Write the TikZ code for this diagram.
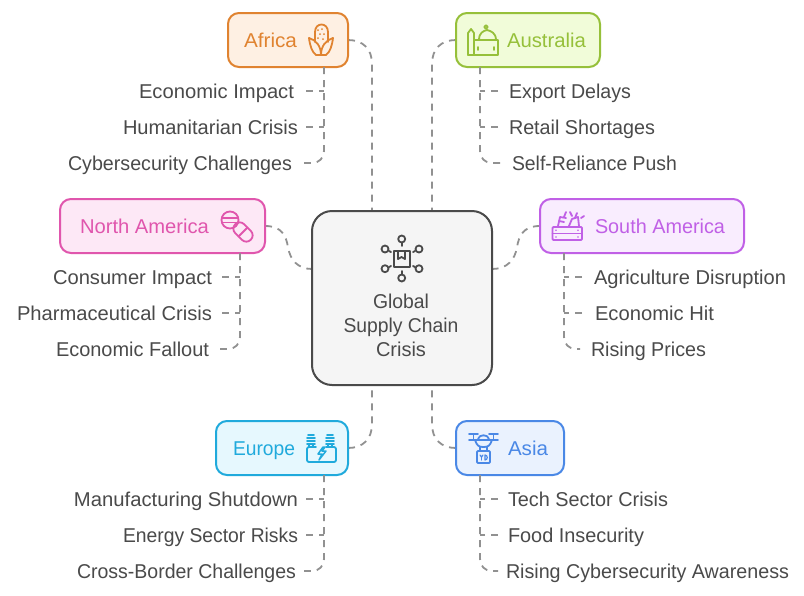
\documentclass[tikz,border=0pt]{standalone}
\usepackage{graphicx}
\usepackage{fontspec}
\setmainfont{Liberation Sans}
\newcommand\fw[2]{\setbox0=\hbox{#2}\pgfmathsetmacro\fwr{#1/\the\wd0}\scalebox{\fwr}[1]{\box0}}
\definecolor{ink}{HTML}{4A4A4A}
\definecolor{dashc}{HTML}{919191}
\definecolor{afS}{HTML}{E08330}\definecolor{afF}{HTML}{FEF0E3}
\definecolor{auS}{HTML}{96C03A}\definecolor{auF}{HTML}{F1FCD9}
\definecolor{naS}{HTML}{E056AD}\definecolor{naF}{HTML}{FDE8F6}
\definecolor{saS}{HTML}{C060E6}\definecolor{saF}{HTML}{F9EDFE}
\definecolor{euS}{HTML}{20AADC}\definecolor{euF}{HTML}{E6F8FE}
\definecolor{asS}{HTML}{4A88E6}\definecolor{asF}{HTML}{EAF2FE}
\tikzset{
  txt/.style={font=\fontsize{20}{24}\selectfont,inner sep=0pt,outer sep=0pt},
  leaf/.style={txt,text=ink},
  region/.style={draw=#1S,fill=#1F,line width=2pt,rounded corners=11pt,inner sep=0pt,minimum height=54pt},
  conn/.style={draw=dashc,line width=1.8pt,dash pattern=on 7pt off 6pt},
  icn/.style={line width=1.8pt,line cap=round,line join=round,fill=none},
}
\begin{document}
\begin{tikzpicture}[x=1pt,y=-1pt]
\useasboundingbox (0,0) rectangle (804,595);
\fill[white] (0,0) rectangle (804,595);
% anchors on the centre box and regions
\coordinate (cTl) at (372,211);\coordinate (cTr) at (432,211);
\coordinate (cBl) at (372,385);\coordinate (cBr) at (432,385);
\coordinate (cL) at (312,269);\coordinate (cR) at (492,269);
% connectors below the boxes
\draw[conn] (348,40) .. controls (363,40) and (372,49) .. (372,64) -- (cTl);
\draw[conn] (456,40) .. controls (441,40) and (432,49) .. (432,64) -- (cTr);
\draw[conn] (265,226) .. controls (282,226) and (286,236) .. (288,247) .. controls (290,260) and (298,269) .. (cL);
\draw[conn] (540,226) .. controls (523,226) and (519,236) .. (517,247) .. controls (515,260) and (507,269) .. (cR);
\draw[conn] (348,448) .. controls (363,448) and (372,439) .. (372,424) -- (cBl);
\draw[conn] (456,448) .. controls (441,448) and (432,439) .. (432,424) -- (cBr);
% centre
\node[draw=ink,fill=black!4,line width=2pt,rounded corners=20pt,minimum width=180pt,minimum height=174pt,inner sep=0pt] (center) at (402,298) {};
\node[leaf,anchor=base] (centerA) at (401,308) {\fw{56}{Global}};
\node[leaf,anchor=base] (centerB) at (401,332) {\fw{115}{Supply Chain}};
\node[leaf,anchor=base] (centerC) at (401,356) {\fw{50}{Crisis}};
% regions
\node[region=af,minimum width=120pt] (africa) at (288,40) {};
\node[region=au,minimum width=144pt] (australia) at (528,40) {};
\node[region=na,minimum width=205pt] (namerica) at (162.5,226) {};
\node[region=sa,minimum width=204pt] (samerica) at (642,226) {};
\node[region=eu,minimum width=132pt] (europe) at (282,448) {};
\node[region=as,minimum width=108pt] (asia) at (510,448) {};
\node[txt,text=afS,anchor=base west] (tAf) at (244,47) {\fw{53}{Africa}};
\node[txt,text=auS,anchor=base west] (tAu) at (507,47) {\fw{79}{Australia}};
\node[txt,text=naS,anchor=base west] (tNa) at (80,233) {\fw{129}{North America}};
\node[txt,text=saS,anchor=base west] (tSa) at (595,233) {\fw{130}{South America}};
\node[txt,text=euS,anchor=base west] (tEu) at (233,455) {\fw{62}{Europe}};
\node[txt,text=asS,anchor=base west] (tAs) at (508,455) {\fw{40}{Asia}};
% leaves
\node[leaf,anchor=base east] (af1) at (294,98) {\fw{155}{Economic Impact}};
\node[leaf,anchor=base east] (af2) at (298,134) {\fw{175}{Humanitarian Crisis}};
\node[leaf,anchor=base east] (af3) at (292,170) {\fw{224}{Cybersecurity Challenges}};
\node[leaf,anchor=base west] (au1) at (509,98) {\fw{122}{Export Delays}};
\node[leaf,anchor=base west] (au2) at (509,134) {\fw{146}{Retail Shortages}};
\node[leaf,anchor=base west] (au3) at (512,170) {\fw{165}{Self-Reliance Push}};
\node[leaf,anchor=base east] (na1) at (212,284) {\fw{159}{Consumer Impact}};
\node[leaf,anchor=base east] (na2) at (212,320) {\fw{195}{Pharmaceutical Crisis}};
\node[leaf,anchor=base east] (na3) at (209,356) {\fw{153}{Economic Fallout}};
\node[leaf,anchor=base west] (sa1) at (594,284) {\fw{192}{Agriculture Disruption}};
\node[leaf,anchor=base west] (sa2) at (595,320) {\fw{119}{Economic Hit}};
\node[leaf,anchor=base west] (sa3) at (591,356) {\fw{115}{Rising Prices}};
\node[leaf,anchor=base east] (eu1) at (298,506) {\fw{224}{Manufacturing Shutdown}};
\node[leaf,anchor=base east] (eu2) at (298,542) {\fw{175}{Energy Sector Risks}};
\node[leaf,anchor=base east] (eu3) at (296,578) {\fw{219}{Cross-Border Challenges}};
\node[leaf,anchor=base west] (as1) at (508,506) {\fw{160}{Tech Sector Crisis}};
\node[leaf,anchor=base west] (as2) at (508,542) {\fw{136}{Food Insecurity}};
\node[leaf,anchor=base west] (as3) at (506,578) {\fw{283}{Rising Cybersecurity Awareness}};
% leaf connectors: trunk + two branches + curved end
\foreach \tx/\ty/\s/\bx/\ex in {324/67/-1/306/304, 480/67/1/498/500, 240/253/-1/222/220, 564/253/1/582/580, 324/475/-1/306/304, 480/475/1/498/498}{
  \pgfmathsetmacro{\yA}{\ty+24}\pgfmathsetmacro{\yB}{\ty+60}\pgfmathsetmacro{\yC}{\ty+96}
  \pgfmathsetmacro{\yD}{\ty+84}\pgfmathsetmacro{\xD}{\tx+\s*12}
  \draw[conn] (\tx,\ty) -- (\tx,\yD) .. controls (\tx,\yC-5) and (\tx+\s*5,\yC) .. (\xD,\yC) -- (\ex,\yC);
  \draw[conn] (\bx,\yA) -- (\tx,\yA);
  \draw[conn] (\bx,\yB) -- (\tx,\yB);
}
% centre icon
\begin{scope}[icn,draw=ink]
\draw (394,251) rectangle (410,267);
\draw (398,251) -- (398,259) -- (401.5,257) -- (405,259) -- (405,251);
\foreach \cx/\cy/\lx/\ly/\mx/\my in {401.7/239/401.7/243/401.7/246, 401.7/278/401.7/274/401.7/271, 385/249/389/251/391/252, 419/249/415/251/413/252, 385/268.7/389/267/391/266, 419/268.7/415/267/413/266}{
  \draw (\cx,\cy) circle (3.5);
  \draw (\lx,\ly) -- (\mx,\my);
}
\end{scope}
% corn
\begin{scope}[icn,draw=afS]
\draw (315,42) -- (315,32) .. controls (315,22) and (328,22) .. (328,32) -- (328,42);
\draw (309,38) .. controls (310,46) and (312,52) .. (316,55) -- (326,55) .. controls (330,52) and (332,46) .. (333,38);
\draw (309,38) .. controls (316,40) and (321,46) .. (321,55);
\draw (333,38) .. controls (326,40) and (321,46) .. (321,55);
\foreach \a/\b in {318/30,322/29,320/34,324/34,318/38,323/39}{\fill[afS] (\a,\b) circle (1);}
\end{scope}
% mosque
\begin{scope}[icn,draw=auS]
\draw (468,55) -- (468,33) -- (471,29) -- (474,33) -- (474,55);
\draw (468,55) -- (498,55) -- (498,40) -- (475,40);
\draw (479,40) .. controls (479,33) and (483,31) .. (487,30) .. controls (491,31) and (496,33) .. (496,40);
\draw (486,27) circle (1.8);
\draw (478,47) -- (478,50);\draw (494,47) -- (494,50);
\end{scope}
% pills
\begin{scope}[icn,draw=naS]
\draw (230,220) circle (8.5);
\draw (222,218) -- (238,218);\draw (222,222.5) -- (238,222.5);
\begin{scope}[shift={(243,232)},rotate=-45]
\draw[rounded corners=6.2pt] (-11,-6.3) rectangle (11,6.3);
\draw (0,-6.3) -- (0,6.3);
\end{scope}
\end{scope}
% crate
\begin{scope}[icn,draw=saS]
\draw[rounded corners=1pt] (552.5,227) rectangle (582,240);
\draw (552.5,233.5) -- (582,233.5);
\fill[saS] (556,230.3) circle (0.9);\fill[saS] (578,230.3) circle (0.9);\fill[saS] (556,237) circle (0.9);\fill[saS] (578,237) circle (0.9);
\draw (558,226) -- (560,217) -- (566,218);\draw (559,221) -- (564,222);
\draw (569,226) -- (572,219) -- (578,217) -- (579,226);\draw (566,212) -- (564,217) ;\draw (577,213) -- (575,218);\draw (572,216) -- (570,212);\draw (581,218) -- (584,216);
\end{scope}
% substation
\begin{scope}[icn,draw=euS]
\draw[rounded corners=2pt] (316,447) -- (307,447) -- (307,462) -- (336,462) -- (336,447) -- (326,447);
\foreach \c in {311,330}{
  \draw (\c-3,435) -- (\c+3,435);\draw (\c-4,438) -- (\c+4,438);\draw (\c-4,441) -- (\c+4,441);\draw (\c-4,444) -- (\c+4,444);\draw (\c-2,444) -- (\c-2,447);\draw (\c+2,444) -- (\c+2,447);
}
\draw[line width=1.5pt] (323,447) -- (318,454) -- (322,454) -- (319,460) -- (326,451) -- (322,451) -- (325,447) -- cycle;
\end{scope}
% drone
\begin{scope}[icn,draw=asS]
\draw (469,434) -- (478,434);\draw (489,434) -- (498,434);
\draw (473.5,434) -- (473.5,440);\draw (493.5,434) -- (493.5,440);
\draw (469,440) -- (498,440);
\draw (475,440) .. controls (477,446) and (479,447) .. (483.5,447) .. controls (488,447) and (490,446) .. (492,440);
\draw (478,439) .. controls (479,434) and (488,434) .. (489,439);
\draw (480,447) -- (480,451);\draw (487,447) -- (487,451);
\draw[rounded corners=1pt] (477,451) rectangle (490,463);
\draw[line width=1.2pt] (480,455) -- (481.5,457) -- (483,455);\draw[line width=1.2pt] (481.5,457) -- (481.5,460);
\draw[line width=1.2pt] (485,455) -- (485,460) .. controls (488,460) and (488,455) .. (485,455);
\end{scope}
\end{tikzpicture}
\end{document}
